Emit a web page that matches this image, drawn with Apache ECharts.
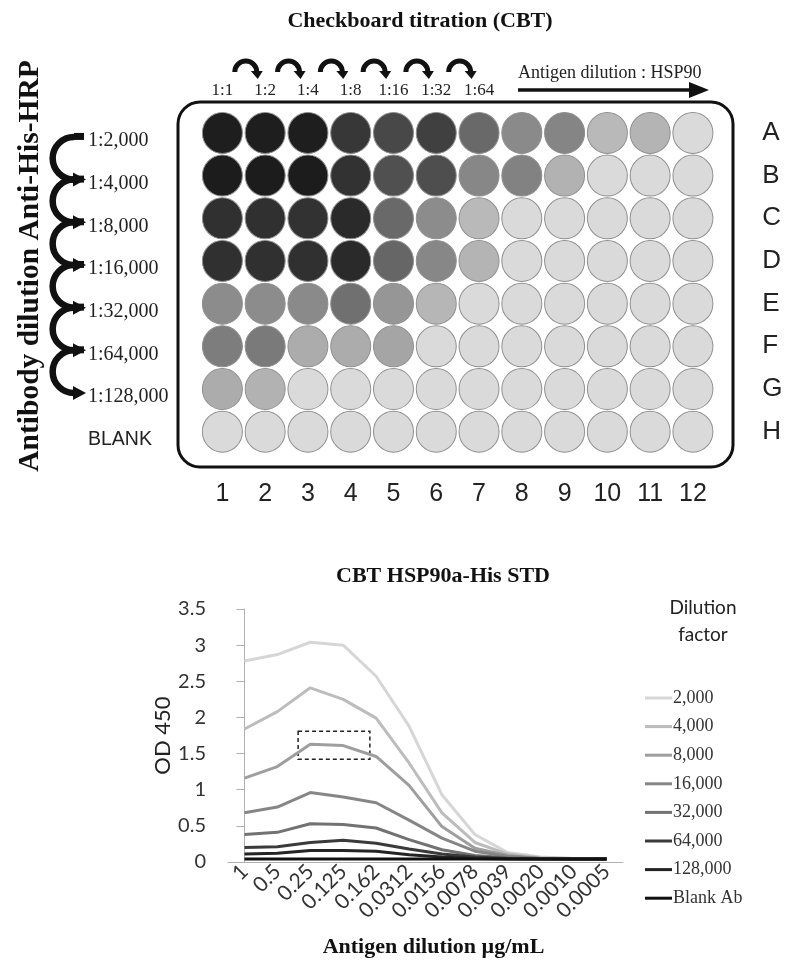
<!DOCTYPE html>
<html><head><meta charset="utf-8">
<script src="https://cdn.jsdelivr.net/npm/echarts@6/dist/echarts.min.js"></script>
<style>html,body{margin:0;padding:0;background:#fff}#c{width:790px;height:961px}</style>
</head><body><div id="c"></div>
<script>
// ---------- Plate (checkboard) data ----------
const plateColumns = ['1','2','3','4','5','6','7','8','9','10','11','12'];
const plateRows = ['A','B','C','D','E','F','G','H'];
const antigenDilutions = ['1:1','1:2','1:4','1:8','1:16','1:32','1:64'];
const antibodyDilutions = ['1:2,000','1:4,000','1:8,000','1:16,000','1:32,000','1:64,000','1:128,000','BLANK'];
// well grey level (0 = black, 255 = white)
const wellsA = [30, 30, 30, 55, 72, 64, 105, 138, 133, 185, 180, 218];
const wellsB = [28, 28, 28, 50, 80, 78, 135, 130, 178, 218, 218, 218];
const wellsC = [48, 48, 50, 42, 105, 140, 185, 218, 218, 218, 218, 218];
const wellsD = [48, 48, 48, 42, 102, 135, 180, 218, 218, 218, 218, 218];
const wellsE = [140, 140, 138, 112, 150, 182, 218, 218, 218, 218, 218, 218];
const wellsF = [125, 122, 172, 172, 165, 218, 218, 218, 218, 218, 218, 218];
const wellsG = [172, 178, 218, 218, 218, 218, 218, 218, 218, 218, 218, 218];
const wellsH = [218, 218, 218, 218, 218, 218, 218, 218, 218, 218, 218, 218];
const plateWells = [wellsA, wellsB, wellsC, wellsD, wellsE, wellsF, wellsG, wellsH];

// ---------- Line chart data ----------
const antigenConc = ['1','0.5','0.25','0.125','0.162','0.0312','0.0156','0.0078','0.0039','0.0020','0.0010','0.0005'];
const dilutionNames = ['2,000','4,000','8,000','16,000','32,000','64,000','128,000','Blank Ab'];
const od2000   = [2.78, 2.87, 3.04, 3.00, 2.57, 1.88, 0.93, 0.38, 0.13, 0.07, 0.05, 0.05];
const od4000   = [1.84, 2.08, 2.41, 2.25, 1.99, 1.37, 0.68, 0.27, 0.11, 0.06, 0.05, 0.05];
const od8000   = [1.16, 1.32, 1.63, 1.61, 1.46, 1.06, 0.49, 0.19, 0.09, 0.05, 0.05, 0.04];
const od16000  = [0.68, 0.76, 0.96, 0.90, 0.82, 0.58, 0.33, 0.15, 0.08, 0.05, 0.04, 0.04];
const od32000  = [0.38, 0.41, 0.53, 0.52, 0.47, 0.31, 0.17, 0.09, 0.06, 0.05, 0.04, 0.04];
const od64000  = [0.20, 0.21, 0.27, 0.30, 0.26, 0.18, 0.11, 0.07, 0.05, 0.04, 0.04, 0.04];
const od128000 = [0.11, 0.12, 0.16, 0.16, 0.15, 0.10, 0.07, 0.05, 0.04, 0.04, 0.04, 0.04];
const odBlank  = [0.04, 0.04, 0.04, 0.04, 0.04, 0.04, 0.04, 0.04, 0.04, 0.04, 0.04, 0.04];
const odSeries = [od2000, od4000, od8000, od16000, od32000, od64000, od128000, odBlank];
const lineColors = ['#d6d6d6', '#bcbcbc', '#9e9e9e', '#868686', '#727272', '#3a3a3a', '#242424', '#111111'];
// highlighted region (category index range, OD range)
const boxRange = [[1.63, 1.81], [3.81, 1.42]];

const SERIF = '"Liberation Serif", "Times New Roman", serif';
const SANS = '"Liberation Sans", Arial, sans-serif';
const CAL = 'Lato, "Open Sans", sans-serif';

const wellData = [];
plateWells.forEach((row, r) => row.forEach((g, c) => wellData.push([c, r, g])));

const chart = echarts.init(document.getElementById('c'), null, {renderer: 'canvas'});

const lineSeries = odSeries.map((d, i) => ({
  name: dilutionNames[i], type: 'line', xAxisIndex: 2, yAxisIndex: 2,
  data: d, showSymbol: false, symbol: 'none', color: lineColors[i],
  lineStyle: {width: 3, color: lineColors[i]}, z: 10 + i, silent: true
}));

const option = {
  animation: false,
  backgroundColor: '#fff',
  grid: [
    {left: 201, top: 111.6, width: 513.3, height: 341.4},
    {left: 228, top: 609, width: 395, height: 253}
  ],
  xAxis: [
    {type: 'category', gridIndex: 0, data: plateColumns, position: 'bottom',
     axisLine: {show: false}, axisTick: {show: false}, splitLine: {show: false},
     axisLabel: {fontFamily: SANS, fontSize: 25, color: '#222', margin: 29}},
    {type: 'category', gridIndex: 0, data: plateColumns, position: 'top',
     axisLine: {show: false}, axisTick: {show: false}, splitLine: {show: false},
     axisLabel: {fontFamily: SERIF, fontSize: 17, color: '#222', margin: 13,
       formatter: (v, i) => antigenDilutions[i] || ''}},
    {type: 'category', gridIndex: 1, data: antigenConc, boundaryGap: true,
     axisLine: {lineStyle: {color: '#b0b0b0', width: 1}}, axisTick: {show: false},
     axisLabel: {rotate: 45, fontFamily: CAL, fontSize: 21, color: '#333', margin: 6, interval: 0},
     name: 'Antigen dilution µg/mL', nameLocation: 'middle', nameGap: 74,
     nameTextStyle: {fontFamily: SERIF, fontWeight: 'bold', fontSize: 22, color: '#111', padding: [0, 0, 0, 16]}},
    {type: 'value', gridIndex: 1, min: -0.5, max: 11.5, show: false}
  ],
  yAxis: [
    {type: 'category', gridIndex: 0, data: plateRows, inverse: true, position: 'left',
     axisLine: {show: false}, axisTick: {show: false}, splitLine: {show: false},
     axisLabel: {align: 'left', margin: 113, fontFamily: SERIF, fontSize: 20, color: '#222',
       padding: [16, 0, 0, 0],
       formatter: (v, i) => i === antibodyDilutions.length - 1 ? '{b|' + antibodyDilutions[i] + '}' : antibodyDilutions[i],
       rich: {b: {fontFamily: SANS, fontSize: 19.5, color: '#222'}}}},
    {type: 'category', gridIndex: 0, data: plateRows, inverse: true, position: 'right',
     axisLine: {show: false}, axisTick: {show: false}, splitLine: {show: false},
     axisLabel: {align: 'left', margin: 48, fontFamily: SANS, fontSize: 26, color: '#222', padding: [10, 0, 0, 0]}},
    {type: 'value', gridIndex: 1, min: 0, max: 3.5, interval: 0.5,
     axisLine: {show: true, lineStyle: {color: '#b0b0b0', width: 1}},
     axisTick: {show: true, length: 8, lineStyle: {color: '#b0b0b0'}},
     splitLine: {show: false},
     axisLabel: {fontFamily: CAL, fontSize: 20, color: '#333', margin: 22},
     name: 'OD 450', nameLocation: 'middle', nameGap: 49,
     nameTextStyle: {fontFamily: CAL, fontSize: 22, color: '#222'}}
  ],
  legend: {
    orient: 'vertical', left: 640, top: 684, itemWidth: 27, itemHeight: 3, itemGap: 10.6,
    icon: 'rect', data: dilutionNames,
    textStyle: {fontFamily: SERIF, fontSize: 18, color: '#333', padding: [0, 0, 0, -4]}
  },
  series: [
    {type: 'scatter', xAxisIndex: 0, yAxisIndex: 0, data: wellData, symbol: 'circle',
     symbolSize: [40, 41], silent: true,
     itemStyle: {
       opacity: 1,
       color: p => { const g = p.value[2]; return 'rgb(' + g + ',' + g + ',' + g + ')'; },
       borderColor: '#8f8f8f', borderWidth: 1
     }},
    ...lineSeries,
    {type: 'line', xAxisIndex: 3, yAxisIndex: 2, data: [], silent: true,
     markArea: {silent: true,
       itemStyle: {color: 'rgba(0,0,0,0)', borderColor: '#222', borderWidth: 1.5, borderType: [4, 3]},
       data: [[{coord: boxRange[0]}, {coord: boxRange[1]}]]}}
  ]
};
chart.setOption(option);

// ---------- decorations (arrows, frame, titles) ----------
const px = (c, r) => chart.convertToPixel({xAxisIndex: 0, yAxisIndex: 0}, [c, r]);
const g = [];
// titles
g.push({type: 'text', x: 420, y: 21, style: {text: 'Checkboard titration (CBT)', font: 'bold 22px ' + SERIF, fill: '#111', align: 'center', verticalAlign: 'middle'}});
g.push({type: 'text', x: 443, y: 576, style: {text: 'CBT HSP90a-His STD', font: 'bold 22px ' + SERIF, fill: '#111', align: 'center', verticalAlign: 'middle'}});
g.push({type: 'text', x: 703, y: 621, style: {text: 'Dilution\nfactor', font: '19px ' + CAL, fill: '#222', align: 'center', verticalAlign: 'middle', lineHeight: 27}});
// vertical antibody title
g.push({type: 'text', x: 30, y: 266, rotation: Math.PI / 2, style: {text: 'Antibody dilution Anti-His-HRP', font: 'bold 29.5px ' + SERIF, fill: '#111', align: 'center', verticalAlign: 'middle'}});
// plate frame
g.push({type: 'rect', shape: {x: 178, y: 102, width: 555, height: 365, r: 22}, style: {fill: 'none', stroke: '#111', lineWidth: 3}, z: 1});
// antigen dilution arrow
g.push({type: 'text', x: 518, y: 73, style: {text: 'Antigen dilution : HSP90', font: '18px ' + SERIF, fill: '#222', align: 'left', verticalAlign: 'middle'}});
g.push({type: 'line', shape: {x1: 518, y1: 90, x2: 694, y2: 90}, style: {stroke: '#111', lineWidth: 3.5}});
g.push({type: 'polygon', shape: {points: [[689, 82], [689, 98], [709, 90]]}, style: {fill: '#111'}});
// top curved arrows between antigen dilutions
for (let i = 0; i < antigenDilutions.length - 1; i++) {
  const a = px(i, 0)[0], b = px(i + 1, 0)[0];
  const cx = (a + b) / 2 + 2, cy = 72, r = 11;
  g.push({type: 'arc', shape: {cx: cx, cy: cy, r: r, startAngle: Math.PI, endAngle: Math.PI * 2, clockwise: true}, style: {stroke: '#111', lineWidth: 5, fill: 'none'}});
  g.push({type: 'polygon', shape: {points: [[cx + r - 6, cy - 1], [cx + r + 6, cy - 1], [cx + r + 1, cy + 7]]}, style: {fill: '#111'}});
}
// left curved arrows between antibody dilutions
for (let i = 0; i < antibodyDilutions.length - 2; i++) {
  const yTop = px(0, i)[1] + 4, yBot = px(0, i + 1)[1] + 4;
  const cy = (yTop + yBot) / 2, r = (yBot - yTop) / 2, cx = 74;
  g.push({type: 'arc', shape: {cx: cx, cy: cy, r: r, startAngle: -Math.PI / 2, endAngle: Math.PI / 2, clockwise: false}, style: {stroke: '#111', lineWidth: 6.5, fill: 'none'}});
  g.push({type: 'polygon', shape: {points: [[cx, yTop - 4], [cx + 10, yTop - 4], [cx + 10, yTop + 3], [cx, yTop + 3]]}, style: {fill: '#111'}});
  g.push({type: 'polygon', shape: {points: [[cx - 1, yBot - 7], [cx - 1, yBot + 7], [cx + 12, yBot]]}, style: {fill: '#111'}});
}
chart.setOption({graphic: g});
</script>
</body></html>
